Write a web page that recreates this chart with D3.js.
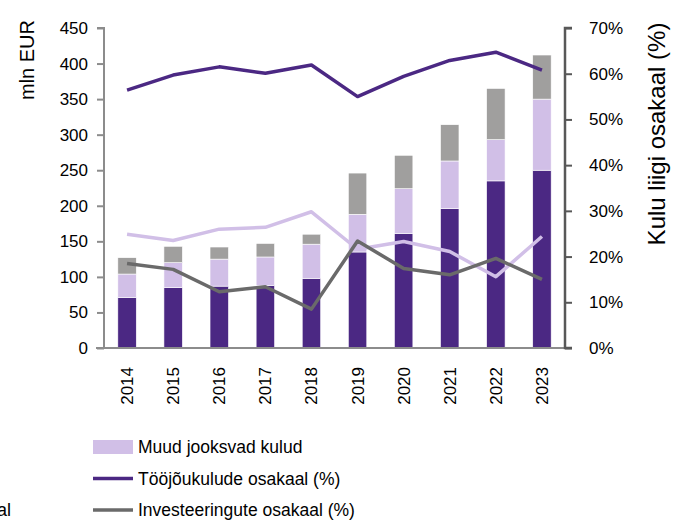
<!DOCTYPE html>
<html>
<head>
<meta charset="utf-8">
<script src="https://cdn.jsdelivr.net/npm/d3@7"></script>
<style>
  body { margin: 0; background: #fff; }
  svg { display: block; font-family: "Liberation Sans", Arial, sans-serif; }
  .axis text { font-size: 17px; fill: #000; }
  .legend text { font-size: 17.5px; fill: #000; }
</style>
</head>
<body>
<svg id="chart"></svg>
<script>
// years on the x axis
const years = ["2014", "2015", "2016", "2017", "2018", "2019", "2020", "2021", "2022", "2023"];

// stacked bar parts, mln EUR
const labourCosts = [71, 85, 87, 88, 98, 135, 161, 196, 235, 250];
const otherCosts  = [33, 35, 38, 40, 48, 53, 63, 67, 58, 100];
const investments = [23, 23, 17, 19, 14, 58, 47, 51, 72, 62];

// shares, %
const labourShare = [56.4, 59.7, 61.5, 60.1, 61.9, 55.0, 59.4, 62.9, 64.7, 60.8];
const otherShare  = [24.9, 23.5, 26.0, 26.4, 29.8, 21.6, 23.3, 21.1, 15.6, 24.4];
const investShare = [18.5, 17.2, 12.3, 13.4, 8.5, 23.4, 17.4, 16.0, 19.6, 15.0];

const leftTicks = [0, 50, 100, 150, 200, 250, 300, 350, 400, 450];
const rightTicks = [0, 10, 20, 30, 40, 50, 60, 70];

const colors = {
    labour: "#4b2883",
    other: "#d1bfe7",
    invest: "#a09f9e",
    investLine: "#6a6a6a"
};

const width = 681, height = 522;
const margin = { top: 28, right: 116, bottom: 174, left: 104 };
const innerW = width - margin.left - margin.right;
const innerH = height - margin.top - margin.bottom;

const svg = d3.select("#chart")
    .attr("width", width)
    .attr("height", height);

const chart = svg.append("g")
    .attr("transform", `translate(${margin.left},${margin.top})`);

// scales
const xScale = d3.scaleBand()
    .domain(years)
    .range([0, innerW])
    .paddingInner(0.6)
    .paddingOuter(0.3);

const yLeft = d3.scaleLinear().domain([0, 450]).range([innerH, 0]);
const yRight = d3.scaleLinear().domain([0, 70]).range([innerH, 0]);

// stacked bars
const rows = years.map((y, i) => ({
    year: y, labour: labourCosts[i], other: otherCosts[i], invest: investments[i]
}));
const stack = d3.stack().keys(["labour", "other", "invest"])(rows);

chart.append("g").selectAll("g")
    .data(stack)
    .join("g")
    .attr("fill", d => colors[d.key])
    .selectAll("rect")
    .data(d => d)
    .join("rect")
    .attr("x", d => xScale(d.data.year))
    .attr("width", xScale.bandwidth())
    .attr("y", d => yLeft(d[1]))
    .attr("height", d => yLeft(d[0]) - yLeft(d[1]))
    .attr("stroke", "#fff")
    .attr("stroke-width", 0.6);

// axes
const leftAxis = chart.append("g")
    .attr("class", "axis")
    .call(d3.axisLeft(yLeft).tickValues(leftTicks).tickSize(7).tickPadding(9));
leftAxis.select(".domain").attr("stroke", "#8c8c8c").attr("stroke-width", 2)
    .attr("d", `M-7,0H0V${innerH}`);
leftAxis.selectAll(".tick line").attr("stroke", "#8c8c8c").attr("stroke-width", 2);

const bottomAxis = chart.append("g")
    .attr("class", "axis")
    .attr("transform", `translate(0,${innerH})`)
    .call(d3.axisBottom(xScale).tickSize(0).tickPadding(0));
bottomAxis.select(".domain").attr("stroke", "#8c8c8c").attr("stroke-width", 2)
    .attr("d", `M-8,0H${innerW + 7}`);
bottomAxis.selectAll(".tick text")
    .attr("transform", "rotate(-90)")
    .attr("text-anchor", "end")
    .attr("dy", "0.35em")
    .attr("x", -19)
    .attr("y", 0);

const rightAxis = chart.append("g")
    .attr("class", "axis")
    .attr("transform", `translate(${innerW},0)`)
    .call(d3.axisRight(yRight).tickValues(rightTicks).tickSize(7).tickPadding(17)
        .tickFormat(d => d + "%"));
rightAxis.select(".domain").attr("stroke", "#585858").attr("stroke-width", 2.5)
    .attr("d", `M7,0H0V${innerH}H7`);
rightAxis.selectAll(".tick line").attr("stroke", "#585858").attr("stroke-width", 2);

// axis titles
svg.append("text")
    .attr("transform", `translate(34,60) rotate(-90)`)
    .attr("text-anchor", "middle")
    .attr("font-size", 20)
    .text("mln EUR");

svg.append("text")
    .attr("transform", `translate(665,134) rotate(-90)`)
    .attr("text-anchor", "middle")
    .attr("font-size", 24)
    .text("Kulu liigi osakaal (%)");

// share lines
const line = d3.line()
    .x((d, i) => xScale(years[i]) + xScale.bandwidth() / 2)
    .y(d => yRight(d));

[[otherShare, colors.other], [investShare, colors.investLine], [labourShare, colors.labour]]
    .forEach(([vals, c]) => {
        chart.append("path")
            .datum(vals)
            .attr("fill", "none")
            .attr("stroke", c)
            .attr("stroke-width", 3.5)
            .attr("stroke-linejoin", "round")
            .attr("d", line);
    });

// legend
const legendItems = [
    { type: "rect", color: colors.other, label: "Muud jooksvad kulud" },
    { type: "line", color: colors.labour, label: "Tööjõukulude osakaal (%)" },
    { type: "line", color: colors.investLine, label: "Investeeringute osakaal (%)" }
];

const legend = svg.append("g").attr("class", "legend")
    .attr("transform", "translate(93,447)");
legendItems.forEach((d, i) => {
    const row = legend.append("g").attr("transform", `translate(0,${i * 31.5})`);
    if (d.type === "rect") {
        row.append("rect").attr("x", 0).attr("y", -7).attr("width", 40).attr("height", 14)
            .attr("fill", d.color);
    } else {
        row.append("line").attr("x1", 0).attr("x2", 40).attr("y1", 0).attr("y2", 0)
            .attr("stroke", d.color).attr("stroke-width", 3.5);
    }
    row.append("text").attr("x", 45).attr("y", 0).attr("dy", "0.35em").text(d.label);
});

// the original's left legend column runs off the page; only its tail shows
svg.append("text")
    .attr("class", "legend-cut")
    .attr("x", 11)
    .attr("y", 516)
    .attr("text-anchor", "end")
    .attr("font-size", 18)
    .text("Muude jooksvate kulude osakaal");
</script>
</body>
</html>
